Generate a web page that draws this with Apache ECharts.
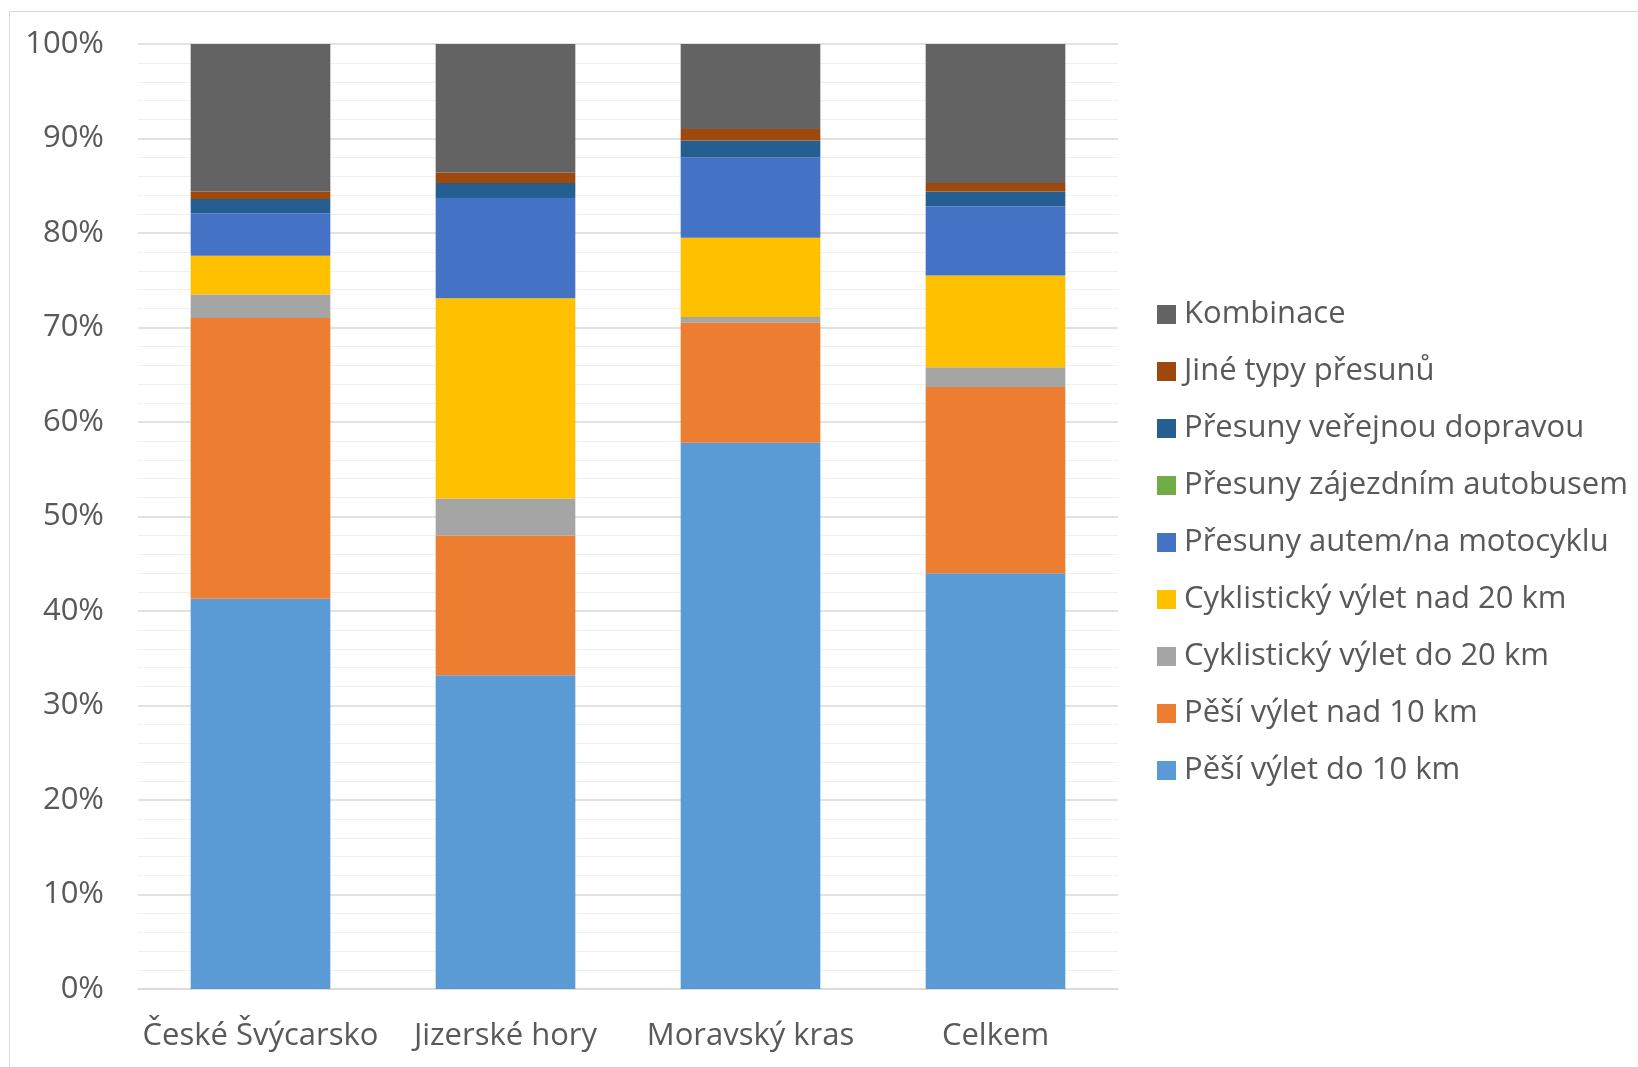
<!DOCTYPE html>
<html>
<head>
<meta charset="utf-8">
<script src="https://cdn.jsdelivr.net/npm/echarts@6/dist/echarts.min.js"></script>
<style>
html,body{margin:0;padding:0;background:#fff;overflow:hidden;}
#frame{position:absolute;left:9px;top:11px;width:1700px;height:1100px;border:1.5px solid #d9d9d9;box-sizing:border-box;}
#chart{position:absolute;left:0;top:0;width:1638px;height:1067px;}
</style>
</head>
<body>
<div id="frame"></div>
<div id="chart"></div>
<script>
const categories = ['České Švýcarsko', 'Jizerské hory', 'Moravský kras', 'Celkem'];
const seriesNames = [
  'Pěší výlet do 10 km',
  'Pěší výlet nad 10 km',
  'Cyklistický výlet do 20 km',
  'Cyklistický výlet nad 20 km',
  'Přesuny autem/na motocyklu',
  'Přesuny zájezdním autobusem',
  'Přesuny veřejnou dopravou',
  'Jiné typy přesunů',
  'Kombinace'
];
const pesiDo10 = [41.3, 33.2, 57.8, 44.0];
const pesiNad10 = [29.7, 14.8, 12.7, 19.7];
const cykloDo20 = [2.5, 3.9, 0.6, 2.1];
const cykloNad20 = [4.1, 21.2, 8.4, 9.7];
const autem = [4.5, 10.6, 8.5, 7.3];
const zajezdnim = [0, 0, 0, 0];
const verejnou = [1.5, 1.6, 1.8, 1.6];
const jine = [0.8, 1.1, 1.2, 0.9];
const kombinace = [15.6, 13.6, 9.0, 14.7];
const seriesValues = [pesiDo10, pesiNad10, cykloDo20, cykloNad20, autem, zajezdnim, verejnou, jine, kombinace];
const colors = ['#5B9BD5', '#ED7D31', '#A5A5A5', '#FFC000', '#4472C4', '#70AD47', '#255E91', '#9E480E', '#636363'];

const FONT = '"Open Sans", sans-serif';
const TXT = '#595959';

const chart = echarts.init(document.getElementById('chart'), null, {renderer: 'canvas'});
chart.setOption({
  animation: false,
  color: colors,
  grid: {left: 138, right: 520, top: 44, bottom: 78, containLabel: false},
  legend: {
    orient: 'vertical',
    left: 1152,
    top: 294,
    itemWidth: 19,
    itemHeight: 19,
    itemGap: 26,
    icon: 'rect',
    data: seriesNames.slice().reverse(),
    textStyle: {fontFamily: FONT, fontSize: 31, color: TXT, lineHeight: 30, padding: [0, 0, 0, 3]}
  },
  xAxis: {
    type: 'category',
    data: categories,
    axisLine: {show: true, lineStyle: {color: '#d9d9d9', width: 1.5}},
    axisTick: {show: false},
    axisLabel: {interval: 0, fontFamily: FONT, fontSize: 31, color: TXT, margin: 32}
  },
  yAxis: {
    type: 'value',
    min: 0,
    max: 100,
    interval: 10,
    axisLine: {show: false},
    axisTick: {show: false},
    axisLabel: {formatter: '{value}%', fontFamily: FONT, fontSize: 31, color: TXT, margin: 34},
    splitLine: {show: true, lineStyle: {color: '#d9d9d9', width: 1.5}},
    minorTick: {show: false, splitNumber: 5},
    minorSplitLine: {show: true, lineStyle: {color: '#f0f0f0', width: 1}}
  },
  series: seriesNames.map((name, i) => ({
    name: name,
    type: 'bar',
    stack: 'total',
    barCategoryGap: '43%',
    data: seriesValues[i],
    itemStyle: {color: colors[i]}
  }))
});
</script>
</body>
</html>
